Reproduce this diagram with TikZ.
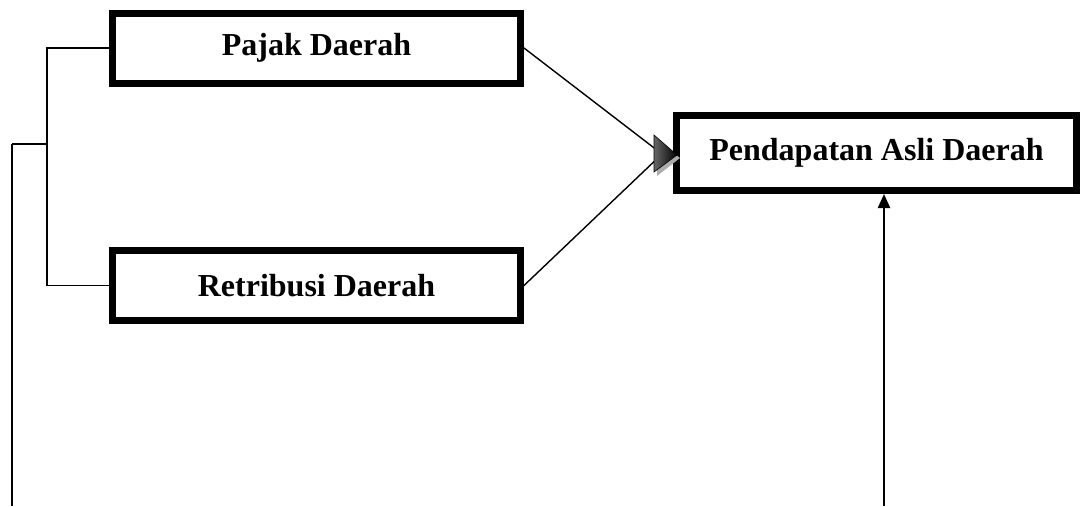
\documentclass[tikz,border=0pt]{standalone}
\usepackage{fontspec}
\setmainfont{Liberation Serif}
\usetikzlibrary{arrows.meta}
\begin{document}
\begin{tikzpicture}[x=1pt,y=-1pt,
  box/.style={draw=black,line width=7pt,fill=white,inner sep=0pt,
    font=\fontsize{32}{36}\selectfont\bfseries},
  thin/.style={draw=black,line width=1.4pt},
  thick/.style={draw=black,line width=2.4pt}]
\useasboundingbox (0,0) rectangle (1081,506);
\node[box,minimum width=408pt,minimum height=70pt] (pajak) at (316.5,48) {Pajak Daerah};
\node[box,minimum width=408pt,minimum height=70pt] (retri) at (316.5,285.5) {Retribusi Daerah};
\node[box,minimum width=400pt,minimum height=75pt] (pad) at (876.5,153) {Pendapatan Asli Daerah};
% bracket
\coordinate (brtop) at (47,48);
\coordinate (brbot) at (47,285.5);
\coordinate (brmid) at (47,144);
\coordinate (lcorner) at (12,144);
\coordinate (lend) at (12,506);
\draw[thin] (pajak.west) -- (brtop) -- (brbot) -- (retri.west);
\draw[thin] (brmid) -- (lcorner);
\draw[thick] (lcorner) -- (lend);
% converging arrows
\coordinate (tip) at (662,154);
\draw[thin] (pajak.east) -- (tip);
\draw[thin] (retri.east) -- (tip);
\fill[gray!65] (657,140) -- (680,158) -- (657,176) -- cycle;
\shade[left color=black!60,right color=black] (654,135) -- (677,155) -- (654,172) -- cycle;
\draw[black,line width=0.6pt] (654,135) -- (677,155) -- (654,172) -- cycle;
% vertical arrow
\coordinate (vbot) at (884,506);
\draw[thick,-{Triangle[length=14pt,width=12pt]}] (vbot) -- (pad.south -| vbot);
\end{tikzpicture}
\end{document}
